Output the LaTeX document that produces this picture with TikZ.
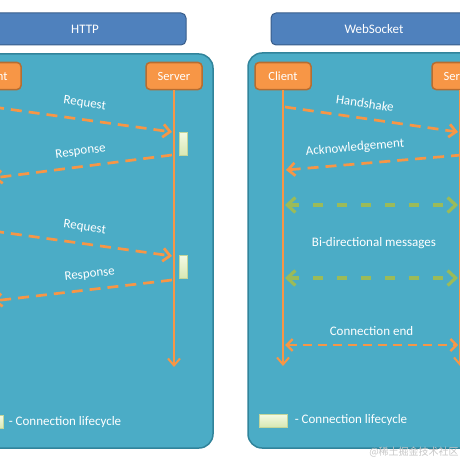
\documentclass[tikz,border=0pt]{standalone}
\usepackage{fontspec}
\setmainfont{Carlito}
\newfontfamily\cjkfont{Noto Sans CJK SC}
\usepackage{tikz}
\usetikzlibrary{arrows.meta, positioning}

\definecolor{panelteal}{HTML}{4BACC6}
\definecolor{panelline}{HTML}{31849B}
\definecolor{headblue}{HTML}{4F81BD}
\definecolor{headline}{HTML}{385D8A}
\definecolor{boxorange}{HTML}{F79646}
\definecolor{boxline}{HTML}{B66D31}
\definecolor{msggreen}{HTML}{9BBB59}
\definecolor{lifetop}{HTML}{F4FAE4}
\definecolor{lifebottom}{HTML}{D7E8B4}
\definecolor{lifeline}{HTML}{C3D69B}

\begin{document}
\begin{tikzpicture}[
        x=1pt, y=-1pt,
        node distance=4pt,
        every node/.style={font=\fontsize{13}{15}\selectfont, text=white},
        panel/.style={draw=panelline, line width=1.5pt, fill=panelteal, rounded corners=14pt},
        header/.style={draw=headline, line width=1pt, fill=headblue, rounded corners=5pt, minimum height=32pt},
        actor/.style={draw=boxline, line width=1.5pt, fill=boxorange, rounded corners=4pt, minimum width=56pt, minimum height=27pt, font=\fontsize{12.5}{15}\selectfont},
        cycle/.style={draw=lifeline, line width=0.5pt, top color=lifetop, bottom color=lifebottom, inner sep=0pt},
        life/.style={draw=boxorange, line width=2pt, -{Straight Barb[length=7pt, width=12pt]}},
        msg/.style={draw=boxorange, line width=2.7pt, dash pattern=on 11pt off 7pt, -{Straight Barb[length=7pt, width=13pt]}},
        twoway/.style={msg, line width=2.3pt, dash pattern=on 9pt off 6pt, {Straight Barb[length=6pt, width=12pt]}-{Straight Barb[length=6pt, width=12pt]}},
        greenway/.style={draw=msggreen, line width=3.2pt, dash pattern=on 10pt off 14pt, {Straight Barb[length=8pt, width=15pt]}-{Straight Barb[length=8pt, width=15pt]}}
        ]

        \useasboundingbox (0,0) rectangle (460,460);
        \clip (0,0) rectangle (460,460);

        % Panels
        \node[panel, minimum width=233pt, minimum height=394pt] (httppanel) at (96.5,251) {};
        \node[panel, minimum width=232pt, minimum height=395pt] (wspanel) at (364,250.5) {};
        \node[header, minimum width=202pt] (httphead) at (85,29) {HTTP};
        \node[header, minimum width=206pt] (wshead) at (374,29) {WebSocket};

        % Actors
        \node[actor] (client1) at (-7,76) {Client};
        \node[actor] (server1) at (174,76) {Server};
        \node[actor] (client2) at (283,76) {Client};
        \node[actor] (server2) at (460,76) {Server};

        % Lifelines
        \coordinate (client1end) at (-7,367);
        \coordinate (server1end) at (174,367);
        \coordinate (client2end) at (283,366);
        \coordinate (server2end) at (460,366);
        \draw[life] (client1) -- (client1end);
        \draw[life] (server1) -- (server1end);
        \draw[life] (client2) -- (client2end);
        \draw[life] (server2) -- (server2end);

        % Connection lifecycles
        \node[cycle, minimum width=8pt, minimum height=23pt] (cycle1) at (183,143.5) {};
        \node[cycle, minimum width=8pt, minimum height=23pt] (cycle2) at (183,267) {};

        % HTTP messages
        \coordinate (req1a) at (-7,107);
        \coordinate (req1b) at (172,132);
        \coordinate (res1a) at (172,155);
        \coordinate (res1b) at (-7,178);
        \coordinate (req2a) at (-7,231);
        \coordinate (req2b) at (172,256);
        \coordinate (res2a) at (172,280);
        \coordinate (res2b) at (-7,301);
        \draw[msg] (req1a) -- node[sloped, above=6pt] {Request} (req1b);
        \draw[msg] (res1a) -- node[sloped, above=5pt] {Response} (res1b);
        \draw[msg] (req2a) -- node[sloped, above=6pt] {Request} (req2b);
        \draw[msg] (res2a) -- node[sloped, above=5pt, pos=0.45] {Response} (res2b);

        % WebSocket messages
        \coordinate (shakea) at (285,107);
        \coordinate (shakeb) at (458,132);
        \coordinate (acka) at (462,155);
        \coordinate (ackb) at (286,170);
        \coordinate (bidi1a) at (285,205);
        \coordinate (bidi1b) at (458,205);
        \coordinate (bidi2a) at (285,278);
        \coordinate (bidi2b) at (458,278);
        \coordinate (enda) at (285,345);
        \coordinate (endb) at (458,345);
        \draw[msg] (shakea) -- node[sloped, above=6pt, pos=0.45] {Handshake} (shakeb);
        \draw[msg] (acka) -- node[sloped, above=6pt, pos=0.6] {Acknowledgement} (ackb);
        \draw[greenway] (bidi1a) -- (bidi1b);
        \draw[greenway] (bidi2a) -- (bidi2b);
        \node (bidilabel) at (374,243) {Bi-directional messages};
        \draw[twoway] (enda) -- node[above=5pt] {Connection end} (endb);

        % Legends
        \node[cycle, minimum width=28pt, minimum height=13pt] (legend1) at (-11,422) {};
        \node[right=2pt of legend1] (legendtext1) {- Connection lifecycle};
        \node[cycle, minimum width=28pt, minimum height=13pt] (legend2) at (273,420.5) {};
        \node[right=4pt of legend2] (legendtext2) {- Connection lifecycle};

        \node[text=gray!45, font=\cjkfont\fontsize{10}{12}\selectfont] (mark) at (414,452) {@稀土掘金技术社区};

\end{tikzpicture}
\end{document}
